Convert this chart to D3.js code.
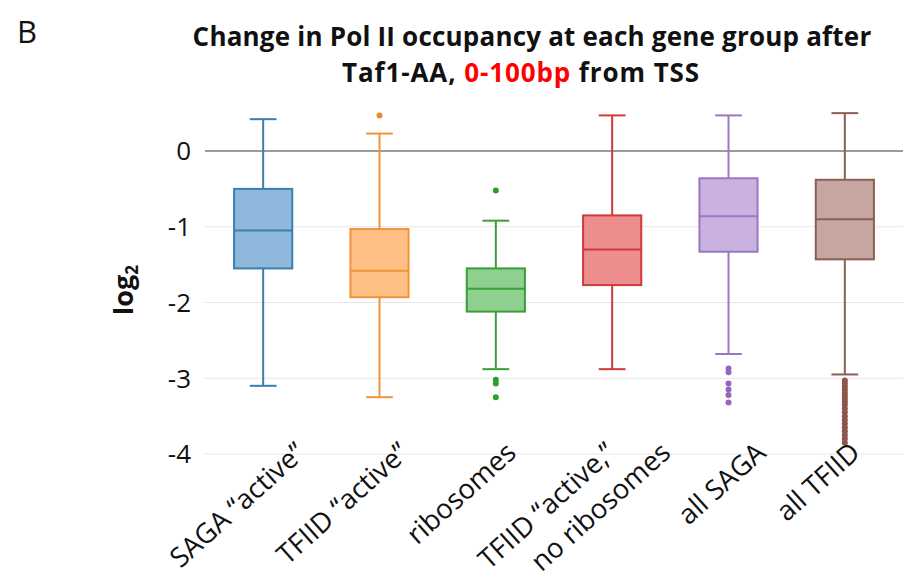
<!DOCTYPE html>
<html><head><meta charset="utf-8">
<script src="https://cdn.jsdelivr.net/npm/d3@7"></script>
<style>body{margin:0;background:#fff}</style>
</head><body>
<svg id="c" width="906" height="580"></svg>
<script>
const categories = [["SAGA \u201cactive\u201d"],["TFIID \u201cactive\u201d"],["ribosomes"],["TFIID \u201cactive,\u201d","no ribosomes"],["all SAGA"],["all TFIID"]];
const whiskerHigh = [0.42, 0.23, -0.92, 0.47, 0.47, 0.50];
const q3 = [-0.50, -1.03, -1.55, -0.85, -0.36, -0.38];
const median = [-1.05, -1.58, -1.82, -1.30, -0.86, -0.90];
const q1 = [-1.55, -1.93, -2.12, -1.77, -1.33, -1.43];
const whiskerLow = [-3.10, -3.25, -2.88, -2.88, -2.68, -2.95];
const outliers = [
  [],
  [0.47],
  [-0.52, -3.02, -3.07, -3.25],
  [],
  [-2.87, -2.92, -3.07, -3.15, -3.22, -3.32],
  [-3.03,-3.07,-3.11,-3.15,-3.19,-3.23,-3.27,-3.31,-3.35,-3.40,-3.45,-3.50,-3.55,-3.60,-3.65,-3.70,-3.75,-3.80,-3.85]
];
const yTicks = [0,-1,-2,-3,-4];

// styles
const strokeColors = ["#3b7fad","#f0953a","#3a9f3a","#cf3a3b","#9a77c0","#8c5f55"];
const fillColors = ["#8fb9dc","#ffbf85","#8fcf8f","#ec8d8e","#c9b2df","#c6a6a0"];
const outlierColors = ["#1f77b4","#e88a34","#2ca02c","#d62728","#9467bd","#8c564b"];

const svg = d3.select("#c");
const x = d3.scaleBand().domain(d3.range(categories.length)).range([205, 903]).paddingInner(0).paddingOuter(0);
const y = d3.scaleLinear().domain([-4, 0]).range([454, 151]);
const bw = x.bandwidth()*0.5, cw = x.bandwidth()*0.23;
const cx = i => x(i) + x.bandwidth()/2;

// grid
svg.append("g").selectAll("line").data(yTicks.filter(d=>d!==0)).join("line")
  .attr("x1",205).attr("x2",903).attr("y1",d=>y(d)).attr("y2",d=>y(d))
  .attr("stroke","#e6e6e6").attr("stroke-width",1);
svg.append("line").attr("x1",205).attr("x2",903).attr("y1",y(0)).attr("y2",y(0))
  .attr("stroke","#7a7a7a").attr("stroke-width",1.3);

// y tick labels
svg.append("g").selectAll("text").data(yTicks).join("text")
  .attr("x",191).attr("y",d=>y(d)).attr("dy","0.36em").attr("text-anchor","end")
  .attr("font-family","Open Sans, sans-serif").attr("font-size",26).attr("fill","#111")
  .text(d=>d);

const g = svg.append("g").selectAll("g").data(categories.map((c,i)=>i)).join("g");
// whiskers
g.append("line").attr("x1",cx).attr("x2",cx).attr("y1",i=>y(whiskerHigh[i])).attr("y2",i=>y(q3[i]))
  .attr("stroke",i=>strokeColors[i]).attr("stroke-width",2);
g.append("line").attr("x1",cx).attr("x2",cx).attr("y1",i=>y(q1[i])).attr("y2",i=>y(whiskerLow[i]))
  .attr("stroke",i=>strokeColors[i]).attr("stroke-width",2);
g.append("line").attr("x1",i=>cx(i)-cw/2).attr("x2",i=>cx(i)+cw/2).attr("y1",i=>y(whiskerHigh[i])).attr("y2",i=>y(whiskerHigh[i]))
  .attr("stroke",i=>strokeColors[i]).attr("stroke-width",2);
g.append("line").attr("x1",i=>cx(i)-cw/2).attr("x2",i=>cx(i)+cw/2).attr("y1",i=>y(whiskerLow[i])).attr("y2",i=>y(whiskerLow[i]))
  .attr("stroke",i=>strokeColors[i]).attr("stroke-width",2);
// box
g.append("rect").attr("x",i=>cx(i)-bw/2).attr("width",bw).attr("y",i=>y(q3[i])).attr("height",i=>y(q1[i])-y(q3[i]))
  .attr("fill",i=>fillColors[i]).attr("stroke",i=>strokeColors[i]).attr("stroke-width",2);
g.append("line").attr("x1",i=>cx(i)-bw/2).attr("x2",i=>cx(i)+bw/2).attr("y1",i=>y(median[i])).attr("y2",i=>y(median[i]))
  .attr("stroke",i=>strokeColors[i]).attr("stroke-width",2);
// outliers
g.each(function(i){
  d3.select(this).selectAll("circle").data(outliers[i]).join("circle")
    .attr("cx",cx(i)).attr("cy",d=>y(d)).attr("r",3).attr("fill",outlierColors[i]);
});

// x labels (layout shifts of each rotated label's end point, per line)
const labelShift = [[44],[31],[22],[5,60],[39],[17]];
g.each(function(i){
  categories[i].forEach((l,k)=>{
    d3.select(this).append("text")
      .attr("transform",`translate(${cx(i)+labelShift[i][k]},${455}) rotate(-42)`)
      .attr("text-anchor","end").attr("font-family","Open Sans, sans-serif").attr("font-size",27.5).attr("fill","#111")
      .text(l);
  });
});

// y axis label
svg.append("text").attr("transform","translate(133,290) rotate(-90)").attr("text-anchor","middle")
  .attr("font-family","Open Sans, sans-serif").attr("font-weight","bold").attr("font-size",27).attr("fill","#111")
  .call(t=>{t.append("tspan").text("log");t.append("tspan").attr("font-size",17).attr("dy","0.3em").text("2");});

// panel letter
svg.append("text").attr("x",17).attr("y",43).attr("font-family","Open Sans, sans-serif").attr("font-size",31).attr("fill","#111").text("B");

// title
const title = svg.append("text").attr("text-anchor","middle").attr("font-family","Open Sans, sans-serif").attr("font-weight","bold").attr("font-size",26).attr("letter-spacing",0.2).attr("fill","#111");
title.append("tspan").attr("x",532).attr("y",46).text("Change in Pol II occupancy at each gene group after");
const l2 = title.append("tspan").attr("x",521).attr("y",82).attr("letter-spacing",0.9);
l2.append("tspan").text("Taf1-AA, ");
l2.append("tspan").attr("fill","#ff0000").text("0-100bp");
l2.append("tspan").text(" from TSS");
</script>
</body></html>
